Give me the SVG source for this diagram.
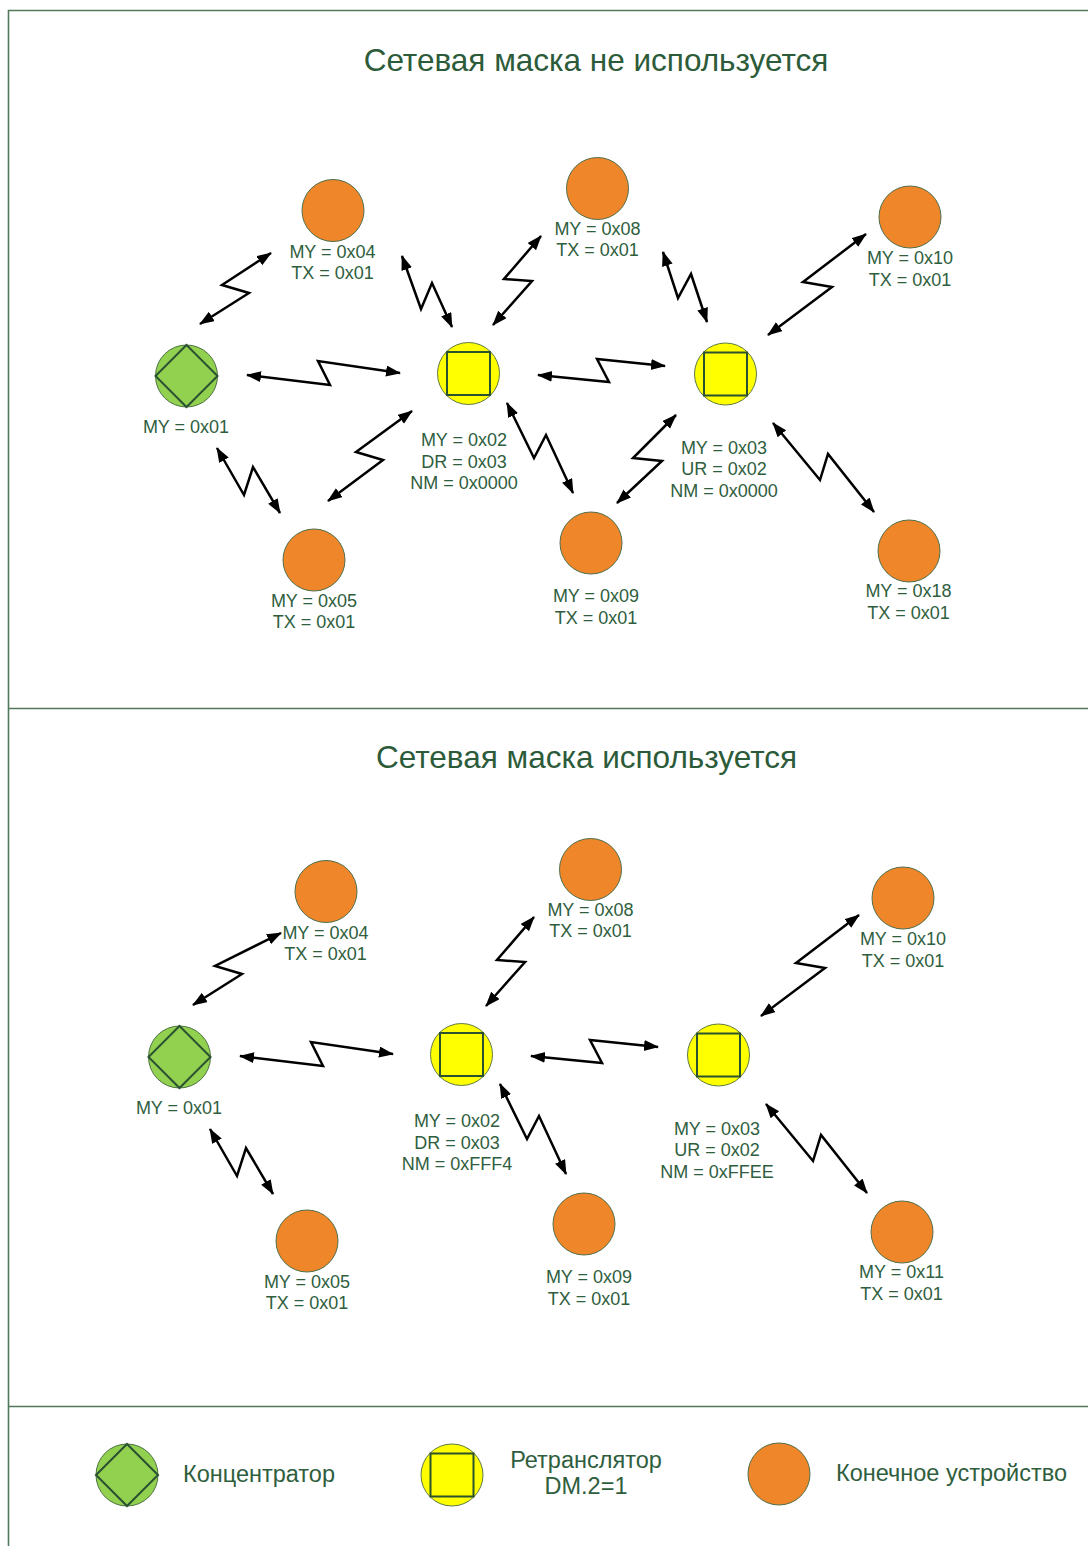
<svg xmlns="http://www.w3.org/2000/svg" width="1088" height="1546" viewBox="0 0 1088 1546">
  <style>
    .frame { stroke: #53795d; stroke-width: 1.6; fill: none; }
    .title { font-family: "Liberation Sans", Arial, sans-serif; font-size: 31.5px; fill: #2c5b3a; text-anchor: middle; }
    .lbl { font-family: "Liberation Sans", Arial, sans-serif; font-size: 18px; fill: #2f5e3e; text-anchor: middle; }
    .leg { font-family: "Liberation Sans", Arial, sans-serif; font-size: 23.5px; fill: #2f5e3e; }
    .end { fill: #f0862a; stroke: #4f6f4c; stroke-width: 1; }
    .hub { fill: #92d050; stroke: #4d7344; stroke-width: 1; }
    .rep { fill: #ffff00; stroke: #5d7a45; stroke-width: 1; }
    .inner { fill: none; stroke: #2a5230; stroke-width: 2; }
    .link { fill: none; stroke: #000; stroke-width: 2.5; stroke-linejoin: miter; marker-start: url(#tip); marker-end: url(#tip); }
  </style>
  <defs>
    <marker id="tip" markerUnits="userSpaceOnUse" markerWidth="16" markerHeight="12" refX="14" refY="5.5" orient="auto-start-reverse">
      <path d="M0,0 L15,5.5 L0,11 Z" fill="#000"/>
    </marker>
    <!-- reusable node bodies, centred on the origin -->
    <g id="hubShape">
      <circle r="31" class="hub"/>
      <path d="M0,-31 L31,0 L0,31 L-31,0 Z" class="inner"/>
    </g>
    <g id="repShape">
      <circle r="31" class="rep"/>
      <rect x="-21.5" y="-21.5" width="43" height="43" class="inner"/>
    </g>
    <circle id="endShape" r="31" class="end"/>
  </defs>

  <rect width="1088" height="1546" fill="#fff"/>

  <!-- frame and section dividers -->
  <g id="frame">
    <path class="frame" d="M8.5,1546 V10.5 H1088"/>
    <path class="frame" d="M8,708.5 H1088" stroke-width="2"/>
    <path class="frame" d="M8,1406.5 H1088"/>
  </g>

  <!-- ===== Section 1 ===== -->
  <text class="title" x="596" y="71">Сетевая маска не используется</text>

  <g id="connectors-top">
    <path class="link" d="M200,324 L249,293 L222,285 L271,253"/>
    <path class="link" d="M402,256 L421,309 L432,283 L452,327"/>
    <path class="link" d="M493,325 L532,281 L504,279 L541,236"/>
    <path class="link" d="M663,252 L678,298 L691,274 L707,322"/>
    <path class="link" d="M768,335 L832,287 L803,282 L866,234"/>
    <path class="link" d="M247,375 L330,385 L318,361 L400,373"/>
    <path class="link" d="M538,375 L609,382 L597,359 L665,366"/>
    <path class="link" d="M507,403 L534,458 L546,435 L573,493"/>
    <path class="link" d="M617,503 L662,461 L633,458 L676,415"/>
    <path class="link" d="M773,423 L820,480 L828,454 L874,512"/>
    <path class="link" d="M217,448 L244,495 L253,467 L280,513"/>
    <path class="link" d="M328,501 L383,460 L356,452 L412,411"/>
  </g>

  <g id="t-hub-01">
    <use href="#hubShape" x="186.5" y="376"/>
    <text class="lbl" x="186" y="433">MY = 0x01</text>
  </g>
  <g id="t-rep-02">
    <use href="#repShape" x="468.5" y="373.5"/>
    <text class="lbl" x="464" y="446">MY = 0x02</text>
    <text class="lbl" x="464" y="467.5">DR = 0x03</text>
    <text class="lbl" x="464" y="489">NM = 0x0000</text>
  </g>
  <g id="t-rep-03">
    <use href="#repShape" x="725.5" y="374"/>
    <text class="lbl" x="724" y="453.5">MY = 0x03</text>
    <text class="lbl" x="724" y="475">UR = 0x02</text>
    <text class="lbl" x="724" y="496.5">NM = 0x0000</text>
  </g>
  <g id="t-end-04">
    <use href="#endShape" x="333" y="210.5"/>
    <text class="lbl" x="332.5" y="257.5">MY = 0x04</text>
    <text class="lbl" x="332.5" y="278.5">TX = 0x01</text>
  </g>
  <g id="t-end-08">
    <use href="#endShape" x="597.5" y="188.5"/>
    <text class="lbl" x="597.5" y="234.5">MY = 0x08</text>
    <text class="lbl" x="597.5" y="256">TX = 0x01</text>
  </g>
  <g id="t-end-10">
    <use href="#endShape" x="910" y="217"/>
    <text class="lbl" x="910" y="264">MY = 0x10</text>
    <text class="lbl" x="910" y="285.5">TX = 0x01</text>
  </g>
  <g id="t-end-05">
    <use href="#endShape" x="314" y="560"/>
    <text class="lbl" x="314" y="606.5">MY = 0x05</text>
    <text class="lbl" x="314" y="628">TX = 0x01</text>
  </g>
  <g id="t-end-09">
    <use href="#endShape" x="591" y="543"/>
    <text class="lbl" x="596" y="602">MY = 0x09</text>
    <text class="lbl" x="596" y="624">TX = 0x01</text>
  </g>
  <g id="t-end-18">
    <use href="#endShape" x="909" y="551"/>
    <text class="lbl" x="908.5" y="597">MY = 0x18</text>
    <text class="lbl" x="908.5" y="619">TX = 0x01</text>
  </g>

  <!-- ===== Section 2 ===== -->
  <text class="title" x="586.5" y="768">Сетевая маска используется</text>

  <g id="connectors-bottom">
    <path class="link" d="M193,1005 L242,974 L215,966 L281,933"/>
    <path class="link" d="M240,1056 L323,1066 L311,1042 L393,1054"/>
    <path class="link" d="M210,1129 L237,1176 L246,1148 L273,1194"/>
    <path class="link" d="M486,1006 L525,962 L497,960 L534,917"/>
    <path class="link" d="M531,1056 L602,1063 L590,1040 L658,1047"/>
    <path class="link" d="M500,1084 L527,1139 L539,1116 L566,1174"/>
    <path class="link" d="M761,1016 L825,968 L796,963 L859,915"/>
    <path class="link" d="M766,1104 L813,1161 L821,1135 L867,1193"/>
  </g>

  <g id="b-hub-01">
    <use href="#hubShape" x="179.5" y="1057"/>
    <text class="lbl" x="179" y="1114">MY = 0x01</text>
  </g>
  <g id="b-rep-02">
    <use href="#repShape" x="461.5" y="1054.5"/>
    <text class="lbl" x="457" y="1127">MY = 0x02</text>
    <text class="lbl" x="457" y="1148.5">DR = 0x03</text>
    <text class="lbl" x="457" y="1170">NM = 0xFFF4</text>
  </g>
  <g id="b-rep-03">
    <use href="#repShape" x="718.5" y="1055"/>
    <text class="lbl" x="717" y="1134.5">MY = 0x03</text>
    <text class="lbl" x="717" y="1156">UR = 0x02</text>
    <text class="lbl" x="717" y="1177.5">NM = 0xFFEE</text>
  </g>
  <g id="b-end-04">
    <use href="#endShape" x="326" y="891.5"/>
    <text class="lbl" x="325.5" y="938.5">MY = 0x04</text>
    <text class="lbl" x="325.5" y="959.5">TX = 0x01</text>
  </g>
  <g id="b-end-08">
    <use href="#endShape" x="590.5" y="869.5"/>
    <text class="lbl" x="590.5" y="915.5">MY = 0x08</text>
    <text class="lbl" x="590.5" y="937">TX = 0x01</text>
  </g>
  <g id="b-end-10">
    <use href="#endShape" x="903" y="898"/>
    <text class="lbl" x="903" y="945">MY = 0x10</text>
    <text class="lbl" x="903" y="966.5">TX = 0x01</text>
  </g>
  <g id="b-end-05">
    <use href="#endShape" x="307" y="1241"/>
    <text class="lbl" x="307" y="1287.5">MY = 0x05</text>
    <text class="lbl" x="307" y="1309">TX = 0x01</text>
  </g>
  <g id="b-end-09">
    <use href="#endShape" x="584" y="1224"/>
    <text class="lbl" x="589" y="1283">MY = 0x09</text>
    <text class="lbl" x="589" y="1305">TX = 0x01</text>
  </g>
  <g id="b-end-11">
    <use href="#endShape" x="902" y="1232"/>
    <text class="lbl" x="901.5" y="1278">MY = 0x11</text>
    <text class="lbl" x="901.5" y="1300">TX = 0x01</text>
  </g>

  <!-- ===== Legend ===== -->
  <g id="legend-hub">
    <use href="#hubShape" x="127" y="1475"/>
    <text class="leg" x="183" y="1482">Концентратор</text>
  </g>
  <g id="legend-rep">
    <use href="#repShape" x="452" y="1475"/>
    <text class="leg" x="586" y="1468" text-anchor="middle">Ретранслятор</text>
    <text class="leg" x="586" y="1494" text-anchor="middle">DM.2=1</text>
  </g>
  <g id="legend-end">
    <use href="#endShape" x="779" y="1474"/>
    <text class="leg" x="836" y="1481">Конечное устройство</text>
  </g>
</svg>
